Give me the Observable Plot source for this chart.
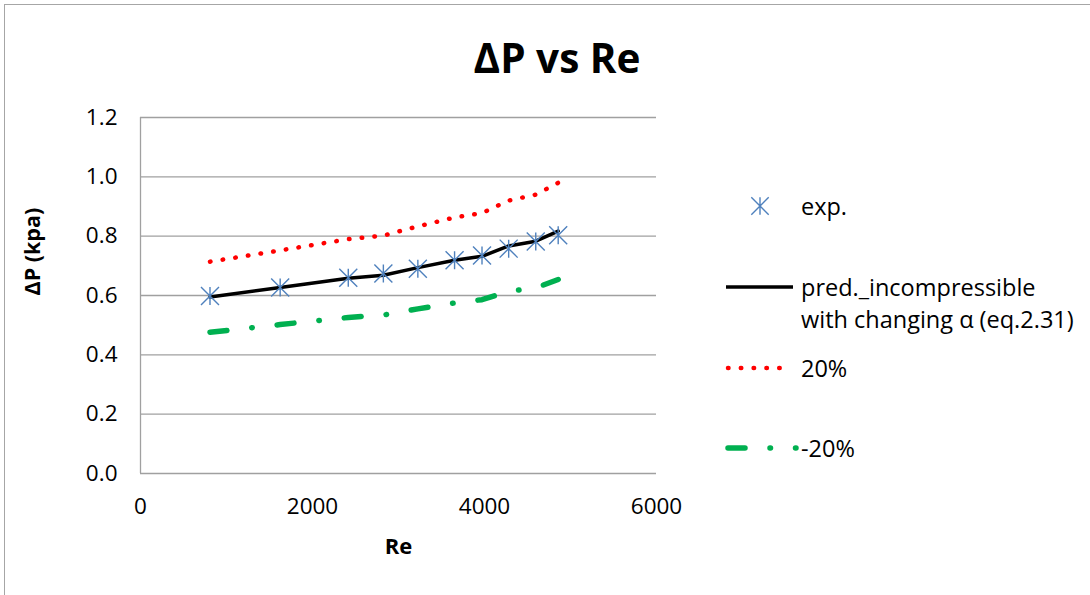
<!DOCTYPE html>
<html>
<head>
<meta charset="utf-8">
<script src="https://cdn.jsdelivr.net/npm/d3@7"></script>
<script src="https://cdn.jsdelivr.net/npm/@observablehq/plot@0.6"></script>
<style>
  html, body { margin: 0; padding: 0; background: #fff; }
  #chart { position: relative; width: 1090px; height: 595px; overflow: hidden; font-family: "Open Sans", sans-serif; color: #000; }
  #frame { position: absolute; left: 4px; top: 4px; width: 1120px; height: 640px; border: 1.5px solid #a6a6a6; box-sizing: border-box; }
  #plot { position: absolute; left: 0; top: 0; }
  #title { position: absolute; left: 0; width: 1114px; top: 33px; line-height: 50px; text-align: center; font-weight: bold; font-size: 40.5px; }
  .leg { position: absolute; left: 801px; font-size: 23.5px; line-height: 32px; white-space: nowrap; }
  .sw { position: absolute; left: 720px; }
</style>
</head>
<body>
<div id="chart">
  <div id="frame"></div>
  <div id="plot"></div>
  <div id="title">ΔP vs Re</div>
  <div id="legend"></div>
</div>
<script>
// Reynolds number of each run
const re = [808, 1624, 2416, 2824, 3225, 3652, 3971, 4281, 4596, 4857];
// measured pressure drop (kPa)
const expDP = [0.598, 0.627, 0.660, 0.674, 0.690, 0.719, 0.735, 0.758, 0.782, 0.803];
// predicted, incompressible with changing alpha (eq. 2.31)
const predDP = [0.595, 0.627, 0.658, 0.668, 0.694, 0.719, 0.732, 0.767, 0.783, 0.817];
// +20% band
const upperDP = [0.714, 0.752, 0.790, 0.802, 0.833, 0.863, 0.878, 0.920, 0.940, 0.980];
// -20% band
const lowerDP = [0.476, 0.502, 0.526, 0.534, 0.555, 0.575, 0.586, 0.614, 0.626, 0.654];

const xTicks = [0, 2000, 4000, 6000];
const yTicks = [0, 0.2, 0.4, 0.6, 0.8, 1.0, 1.2];

const legendLabels = ["exp.", "pred._incompressible\nwith changing α (eq.2.31)", "20%", "-20%"];

const rows = re.map((r, i) => ({re: r, exp: expDP[i], pred: predDP[i], hi: upperDP[i], lo: lowerDP[i]}));

// Excel-style star marker: vertical bar plus an X spanning the square
const star = {
  draw(ctx, size) {
    const s = Math.sqrt(size / Math.PI);
    ctx.moveTo(0, -s); ctx.lineTo(0, s);
    ctx.moveTo(-s, -s); ctx.lineTo(s, s);
    ctx.moveTo(-s, s); ctx.lineTo(s, -s);
  }
};

const blue = "#4f81bd", red = "#ff0000", green = "#00b050";
const dotted = {stroke: red, strokeWidth: 4.5, strokeDasharray: "0.5 12.3", strokeLinecap: "round"};
const dashDot = {stroke: green, strokeWidth: 5.5, strokeDasharray: "17 25 0.5 25", strokeLinecap: "round"};

const chart = Plot.plot({
  width: 1090,
  height: 595,
  marginLeft: 140,
  marginRight: 434,
  marginTop: 117,
  marginBottom: 122,
  style: {fontFamily: "'Open Sans', sans-serif", fontSize: "22.5px", color: "#000", background: "transparent"},
  x: {domain: [0, 6000]},
  y: {domain: [0, 1.2]},
  marks: [
    Plot.gridY(yTicks.slice(1), {stroke: "#a0a0a0", strokeOpacity: 1, strokeWidth: 1.3}),
    Plot.ruleX([0], {stroke: "#a0a0a0", strokeWidth: 1.3}),
    Plot.ruleY([0], {stroke: "#a0a0a0", strokeWidth: 1.3}),
    Plot.axisX(xTicks, {tickSize: 0, tickPadding: 25, tickFormat: d3.format("d"), label: null, fontSize: 22.5}),
    Plot.axisY(yTicks, {tickSize: 0, tickPadding: 23, tickFormat: d3.format(".1f"), label: null, fontSize: 22.5}),
    Plot.text(["Re"], {frameAnchor: "bottom", dy: 80, fontWeight: "bold", fontSize: 22}),
    Plot.text(["ΔP (kpa)"], {frameAnchor: "left", dx: -107, rotate: -90, fontWeight: "bold", fontSize: 21.5}),
    Plot.line(rows, {x: "re", y: "hi", ...dotted}),
    Plot.line(rows, {x: "re", y: "lo", ...dashDot}),
    Plot.line(rows, {x: "re", y: "pred", stroke: "#000", strokeWidth: 3.5}),
    Plot.dot(rows, {x: "re", y: "exp", symbol: star, r: 9, stroke: blue, strokeWidth: 1.4, fill: "none"})
  ]
});
document.getElementById("plot").appendChild(chart);

// Legend
const legend = document.getElementById("legend");
const ns = "http://www.w3.org/2000/svg";
function swatch(cy, build) {
  const svg = document.createElementNS(ns, "svg");
  svg.setAttribute("width", 80);
  svg.setAttribute("height", 24);
  svg.setAttribute("class", "sw");
  svg.style.top = (cy - 12) + "px";
  build(svg);
  legend.appendChild(svg);
}
function el(parent, tag, attrs) {
  const e = document.createElementNS(ns, tag);
  for (const k in attrs) e.setAttribute(k, attrs[k]);
  parent.appendChild(e);
  return e;
}
function label(text, cy) {
  const d = document.createElement("div");
  d.className = "leg";
  d.style.top = (cy - 16) + "px";
  d.innerHTML = text.split("\n").join("<br>");
  legend.appendChild(d);
}
swatch(206, svg => {
  const s = 8.7, cx = 40, cy = 12;
  el(svg, "path", {d: `M${cx},${cy - s}V${cy + s}M${cx - s},${cy - s}L${cx + s},${cy + s}M${cx - s},${cy + s}L${cx + s},${cy - s}`,
    stroke: blue, "stroke-width": 1.4, fill: "none"});
});
label(legendLabels[0], 206);
swatch(287, svg => el(svg, "line", {x1: 6, x2: 73, y1: 12, y2: 12, stroke: "#000", "stroke-width": 3.5}));
label(legendLabels[1], 287);
swatch(368, svg => el(svg, "line", {x1: 8, x2: 72, y1: 12, y2: 12, stroke: red, "stroke-width": 4.5,
  "stroke-dasharray": "0.5 12.3", "stroke-linecap": "round"}));
label(legendLabels[2], 368);
swatch(448, svg => el(svg, "line", {x1: 8, x2: 76, y1: 12, y2: 12, stroke: green, "stroke-width": 5.5,
  "stroke-dasharray": "17 25 0.5 25", "stroke-linecap": "round"}));
label(legendLabels[3], 448);
</script>
</body>
</html>
